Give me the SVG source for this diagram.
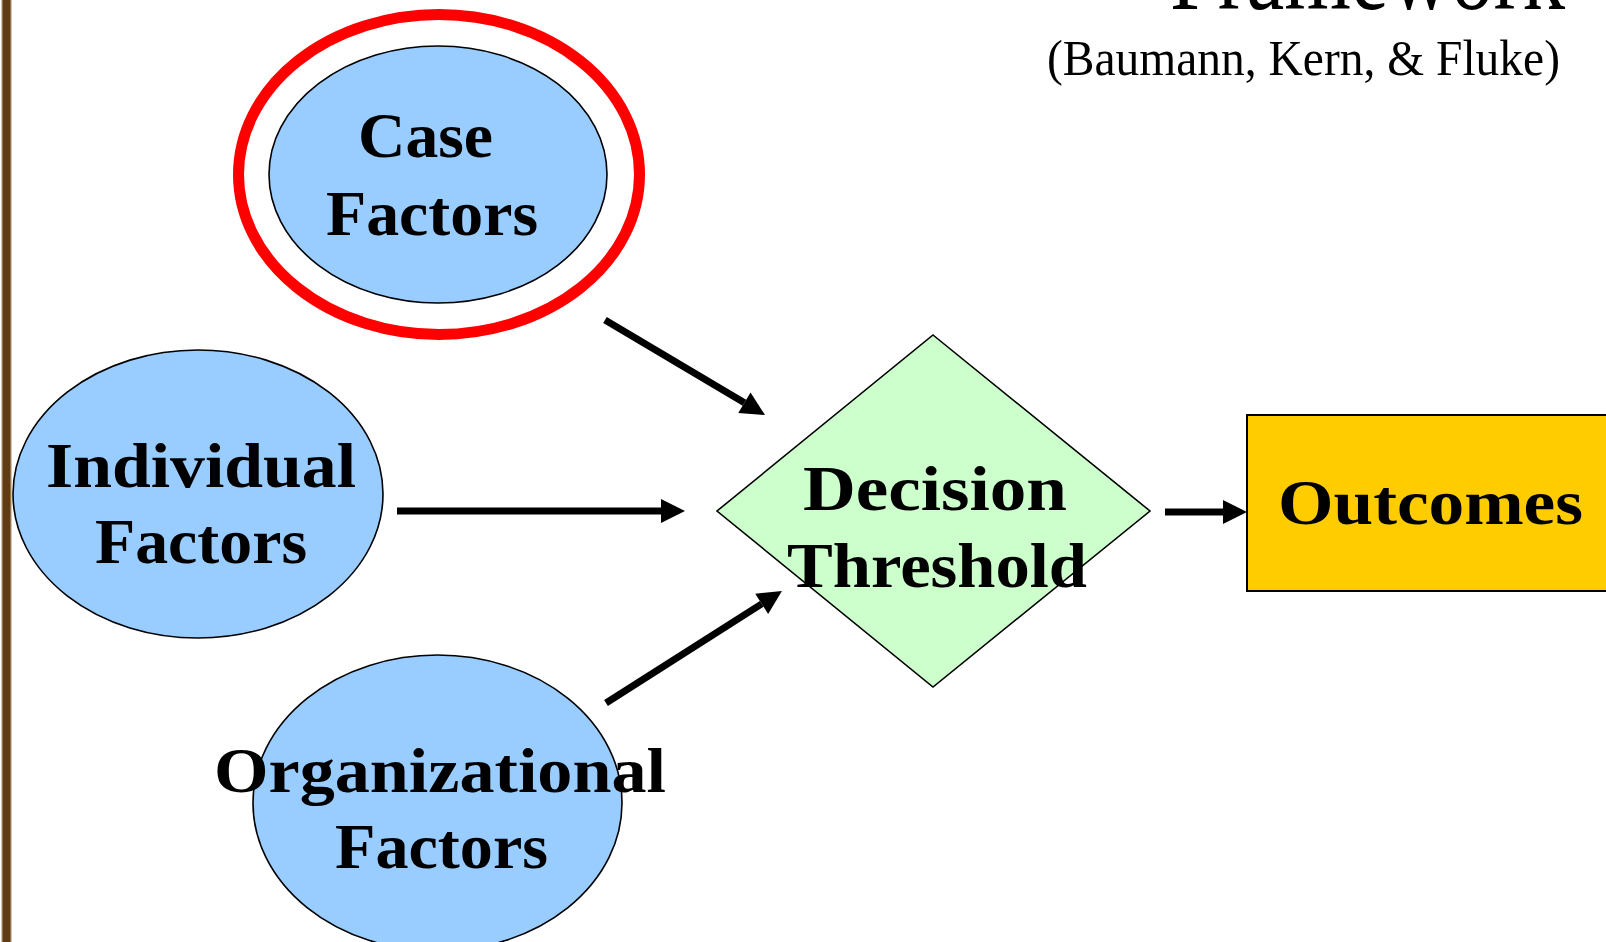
<svg xmlns="http://www.w3.org/2000/svg" width="1606" height="942" viewBox="0 0 1606 942">
<style>
.node{fill:#99ccff;stroke:#000;stroke-width:1.6}
.lbl{font-family:"Liberation Serif","Times New Roman",serif;font-weight:bold;font-size:64px;fill:#000;text-anchor:middle}
.plain{font-family:"Liberation Serif","Times New Roman",serif;fill:#000}
.conn{stroke:#000;stroke-width:7;fill:none;marker-end:url(#ah)}
</style>
<defs>
<marker id="ah" markerUnits="userSpaceOnUse" markerWidth="24" markerHeight="24" refX="0" refY="12" orient="auto" overflow="visible">
<path d="M0,0 L24,12 L0,24 Z" fill="#000"/>
</marker>
</defs>
<rect x="0" y="0" width="1606" height="942" fill="#fff"/>
<g id="border">
<rect x="2" y="0" width="9" height="942" fill="#603c14"/>
<rect x="1.5" y="0" width="1.2" height="942" fill="#a88a66"/>
<rect x="10.3" y="0" width="1.2" height="942" fill="#a88a66"/>
</g>
<g id="title">
<text class="plain" x="1565" y="9" font-size="108" text-anchor="end" textLength="395" lengthAdjust="spacingAndGlyphs">Framework</text>
<text class="plain" x="1047" y="75" font-size="50" textLength="513" lengthAdjust="spacingAndGlyphs">(Baumann, Kern, &amp; Fluke)</text>
</g>
<g id="connectors">
<line class="conn" x1="605" y1="320" x2="744.4" y2="402.8"/>
<line class="conn" x1="397" y1="511" x2="661" y2="511"/>
<line class="conn" x1="606" y1="703" x2="761.7" y2="603.9"/>
<line class="conn" x1="1165" y1="512" x2="1223" y2="512"/>
</g>
<g id="case-factors">
<ellipse cx="439" cy="174.5" rx="200.5" ry="160" fill="none" stroke="#ff0000" stroke-width="11"/>
<ellipse class="node" cx="438" cy="174.5" rx="169" ry="128.5"/>
<text class="lbl" x="425.5" y="157" textLength="135" lengthAdjust="spacingAndGlyphs">Case</text>
<text class="lbl" x="432" y="235" textLength="212" lengthAdjust="spacingAndGlyphs">Factors</text>
</g>
<g id="individual-factors">
<ellipse class="node" cx="198" cy="494" rx="185" ry="144"/>
<text class="lbl" x="201" y="487" textLength="310" lengthAdjust="spacingAndGlyphs">Individual</text>
<text class="lbl" x="201" y="563" textLength="212" lengthAdjust="spacingAndGlyphs">Factors</text>
</g>
<g id="organizational-factors">
<ellipse class="node" cx="437.5" cy="803" rx="184.5" ry="148"/>
<text class="lbl" x="440" y="792" textLength="452" lengthAdjust="spacingAndGlyphs">Organizational</text>
<text class="lbl" x="441.5" y="868" textLength="213" lengthAdjust="spacingAndGlyphs">Factors</text>
</g>
<g id="decision-threshold">
<polygon points="933,335 1150,511 933,687 717,511" fill="#ccffcc" stroke="#000" stroke-width="1.6"/>
<text class="lbl" x="935" y="510" textLength="264" lengthAdjust="spacingAndGlyphs">Decision</text>
<text class="lbl" x="937" y="587" textLength="300" lengthAdjust="spacingAndGlyphs">Threshold</text>
</g>
<g id="outcomes">
<rect x="1247" y="415" width="400" height="176" fill="#ffcc00" stroke="#000" stroke-width="2"/>
<text class="lbl" x="1430.5" y="524" textLength="305" lengthAdjust="spacingAndGlyphs">Outcomes</text>
</g>
</svg>
